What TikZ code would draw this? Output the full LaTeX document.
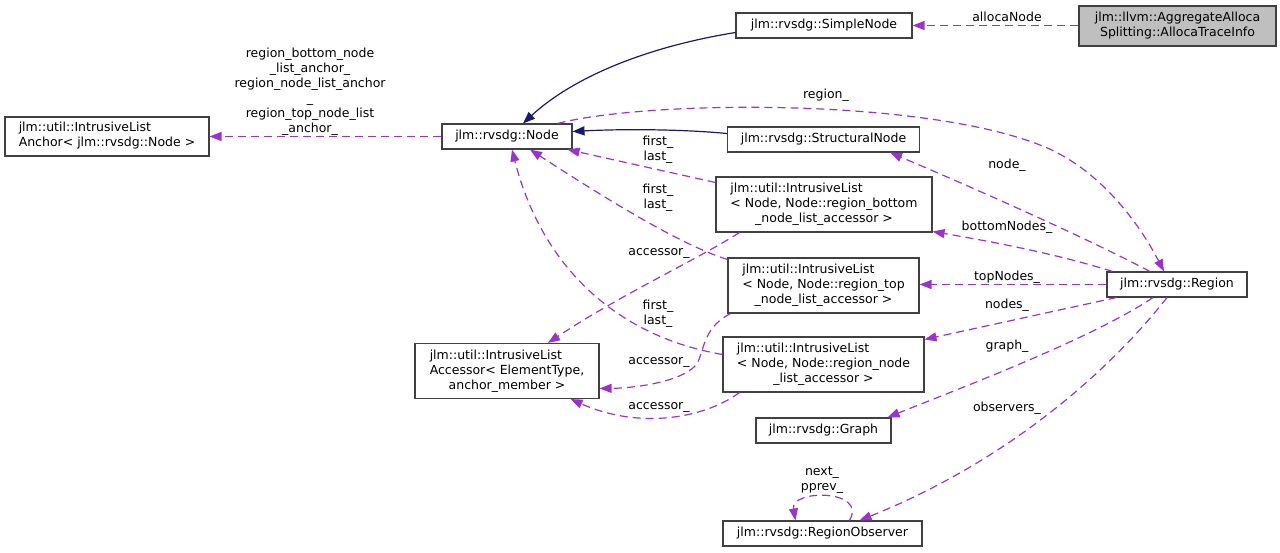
\documentclass[tikz,border=0pt]{standalone}
\usepackage{fontspec}
\setmainfont{DejaVu Sans}
\usetikzlibrary{arrows.meta,calc}
\definecolor{purp}{HTML}{9A32CD}
\definecolor{navyc}{HTML}{191970}
\definecolor{boxc}{HTML}{404040}
\definecolor{grayfill}{HTML}{BFBFBF}
\newcommand{\fsz}{\fontsize{12.5}{15}\selectfont}
\newcommand{\onel}[1]{\begin{tabular}{@{}c@{}}#1\end{tabular}}
\newcommand{\twol}[2]{\begin{tabular}{@{}l@{}}#1\\\multicolumn{1}{@{}c@{}}{#2}\end{tabular}}
\newcommand{\threel}[3]{\begin{tabular}{@{}l@{}}#1\\#2\\\multicolumn{1}{@{}c@{}}{#3}\end{tabular}}
\begin{document}
\begin{tikzpicture}[x=1pt,y=-1pt,
  box/.style={draw=boxc,line width=1.1pt,fill=white,inner sep=0pt,font=\fsz},
  lbl/.style={inner sep=0pt,align=center,font=\fsz},
  use/.style={draw=purp,line width=1.2pt,dash pattern=on 8pt off 5pt,-{Triangle[length=12pt,width=9pt]}},
  inh/.style={draw=navyc,line width=1.2pt,-{Triangle[length=12pt,width=9pt]}}]
\useasboundingbox (0,0) rectangle (1280,553);
% boxes
\node[box,fill=grayfill,minimum width=197,minimum height=40] (alloca) at (1177.5,26) {\twol{jlm::llvm::AggregateAlloca}{Splitting::AllocaTraceInfo}};
\node[box,minimum width=176,minimum height=25] (simple) at (824,25.5) {\onel{jlm::rvsdg::SimpleNode}};
\node[box,minimum width=204,minimum height=39] (anchor) at (107,136.5) {\twol{jlm::util::IntrusiveList}{Anchor< jlm::rvsdg::Node >}};
\node[box,minimum width=130,minimum height=25] (node) at (507,136.5) {\onel{jlm::rvsdg::Node}};
\node[box,minimum width=192,minimum height=25] (structural) at (823.5,139.5) {\onel{jlm::rvsdg::StructuralNode}};
\node[box,minimum width=216,minimum height=55] (bottom) at (824,204.5) {\threel{jlm::util::IntrusiveList}{< Node, Node::region\_bottom}{\_node\_list\_accessor >}};
\node[box,minimum width=191,minimum height=55] (top) at (823.5,285.5) {\threel{jlm::util::IntrusiveList}{< Node, Node::region\_top}{\_node\_list\_accessor >}};
\node[box,minimum width=201,minimum height=55] (listnode) at (823.5,364.5) {\threel{jlm::util::IntrusiveList}{< Node, Node::region\_node}{\_list\_accessor >}};
\node[box,minimum width=184,minimum height=55] (accessor) at (507,371) {\threel{jlm::util::IntrusiveList}{Accessor< ElementType,}{anchor\_member >}};
\node[box,minimum width=135,minimum height=25] (graph) at (823.5,430.5) {\onel{jlm::rvsdg::Graph}};
\node[box,minimum width=140,minimum height=25] (region) at (1177,284.5) {\onel{jlm::rvsdg::Region}};
\node[box,minimum width=199,minimum height=25] (observer) at (822.5,533.5) {\onel{jlm::rvsdg::RegionObserver}};
% edges
\draw[use] (alloca.west |- simple.east) -- (simple.east);
\draw[inh] ($(simple.west)+(0,7)$) .. controls (640,48) and (570,80) .. ($(node.north)+(16,0)$);
\draw[inh] ($(structural.west)+(0,-6)$) .. controls (680,129) and (620,129) .. ($(node.east)+(0,-5)$);
\draw[use] (node.west) -- (anchor.east |- node.west);
\draw[use] ($(node.north east)+(-15,0)$) .. controls (650,100) and (920,98) .. (1040,145) .. controls (1100,168) and (1140,225) .. ($(region.north)+(-13,0)$);
\draw[use] ($(bottom.west)+(0,-22)$) -- ($(node.south east)+(-5,0)$);
\draw[use] ($(top.north west)+(0,2)$) .. controls (680,245) and (600,195) .. ($(node.south)+(23,0)$);
\draw[use] ($(listnode.west)+(0,-10)$) .. controls (610,335) and (540,260) .. ($(node.south)+(5,0)$);
\draw[use] ($(bottom.south west)+(24,0)$) .. controls (700,258) and (620,295) .. ($(accessor.north)+(41,0)$);
\draw[use] ($(top.south west)+(3,0)$) .. controls (705,327) and (705,345) .. (698,362) .. controls (688,380) and (640,388) .. ($(accessor.east)+(0,17.5)$);
\draw[use] ($(listnode.south west)+(17,0)$) .. controls (705,418) and (640,430) .. ($(accessor.south east)+(-29,0)$);
\draw[use] ($(region.north)+(-27,0)$) .. controls (1090,240) and (990,195) .. ($(structural.south east)+(-30,0)$);
\draw[use] ($(region.north west)+(6,0)$) .. controls (1060,255) and (1000,243) .. ($(bottom.south east)+(0,-1)$);
\draw[use] (region.west) -- (top.east |- region.west);
\draw[use] ($(region.south west)+(10,0)$) -- ($(listnode.north east)+(0,3)$);
\draw[use] ($(region.south)+(-24,0)$) .. controls (1090,340) and (950,392) .. ($(graph.north east)+(-4,0)$);
\draw[use] ($(region.south)+(-10,0)$) .. controls (1110,370) and (1010,460) .. ($(observer.north)+(37,0)$);
\draw[use] ($(observer.north)+(27,0)$) .. controls (868,489) and (790,489) .. ($(observer.north)+(-27,0)$);
% labels
\node[lbl] (l1) at (1007,17) {allocaNode};
\node[lbl] (l2) at (310,91.5) {region\_bottom\_node\\\_list\_anchor\_\\region\_node\_list\_anchor\\\_\\region\_top\_node\_list\\\_anchor\_};
\node[lbl] (l3) at (826,95) {region\_};
\node[lbl] (l4) at (658,150) {first\_\\last\_};
\node[lbl] (l5) at (658,198) {first\_\\last\_};
\node[lbl] (l6) at (659,253) {accessor\_};
\node[lbl] (l7) at (658,314) {first\_\\last\_};
\node[lbl] (l8) at (659,362) {accessor\_};
\node[lbl] (l9) at (659,407) {accessor\_};
\node[lbl] (l10) at (1007,165) {node\_};
\node[lbl] (l11) at (1007,227) {bottomNodes\_};
\node[lbl] (l12) at (1007,277) {topNodes\_};
\node[lbl] (l13) at (1007,305) {nodes\_};
\node[lbl] (l14) at (1007,346) {graph\_};
\node[lbl] (l15) at (1007,408) {observers\_};
\node[lbl] (l16) at (822,480) {next\_\\pprev\_};
\end{tikzpicture}
\end{document}
